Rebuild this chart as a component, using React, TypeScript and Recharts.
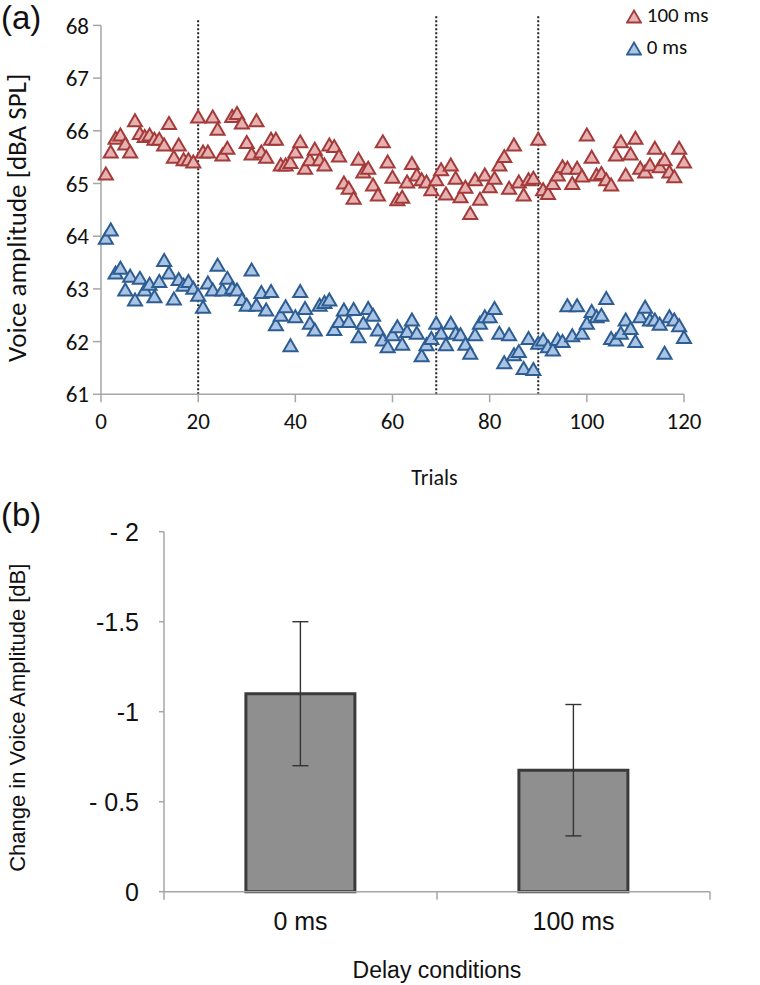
import React from 'react';
import {
  ScatterChart, Scatter, XAxis, YAxis, ReferenceLine,
  BarChart, Bar, ErrorBar,
} from 'recharts';

// ---------- Panel (a) data ----------
const delay100Values = [
  65.18, 65.6, 65.86, 65.92, 65.75, 65.6, 66.19, 65.95, 65.89, 65.92,
  65.84, 65.84, 65.73, 66.14, 65.5, 65.73, 65.45, 65.45, 65.41, 66.26,
  65.6, 65.6, 66.26, 66.03, 65.54, 65.67, 66.27, 66.33, 66.15, 65.78,
  65.56, 66.19, 65.6, 65.5, 65.84, 65.84, 65.35, 65.35, 65.4, 65.6,
  65.79, 65.29, 65.45, 65.65, 65.45, 65.35, 65.73, 65.7, 65.52, 65.01,
  64.91, 64.72, 65.46, 65.22, 65.29, 64.97, 64.78, 65.79, 65.41, 65.12,
  64.69, 64.74, 65.03, 65.38, 65.16, 65.07, 65.03, 64.88, 65.07, 65.26,
  64.8, 65.35, 65.1, 64.75, 64.93, 64.43, 65.07, 64.7, 65.16, 64.94,
  65.1, 65.35, 65.51, 64.91, 65.73, 65.03, 64.78, 65.07, 65.1, 65.84,
  64.88, 64.81, 65.0, 65.16, 65.32, 65.29, 65.0, 65.29, 65.14, 65.92,
  65.5, 65.16, 65.19, 65.07, 64.97, 65.54, 65.79, 65.16, 65.56, 65.86,
  65.29, 65.22, 65.35, 65.67, 65.32, 65.45, 65.22, 65.13, 65.67, 65.41,
];

const delay0Values = [
  63.96, 64.12, 63.3, 63.39, 62.98, 63.24, 62.79, 63.2, 62.98, 63.09,
  62.85, 63.14, 63.54, 63.3, 62.81, 63.18, 63.07, 63.14, 63.01, 62.88,
  62.65, 63.11, 62.98, 63.45, 62.98, 63.2, 63.01, 62.98, 62.8, 62.69,
  63.36, 62.69, 62.93, 62.6, 62.95, 62.32, 62.5, 62.66, 61.92, 62.47,
  62.95, 62.63, 62.35, 62.22, 62.69, 62.74, 62.79, 62.23, 62.38, 62.6,
  62.38, 62.61, 62.09, 62.35, 62.63, 62.5, 62.22, 62.03, 61.9, 62.13,
  62.28, 61.95, 62.19, 62.41, 62.16, 61.73, 61.94, 62.06, 62.35, 62.16,
  61.94, 62.35, 62.16, 62.13, 61.95, 61.78, 62.13, 62.35, 62.47, 62.47,
  62.63, 62.16, 61.6, 62.13, 61.75, 61.81, 61.49, 62.06, 61.47, 61.97,
  62.03, 61.9, 61.84, 62.04, 62.0, 62.68, 62.11, 62.68, 62.16, 62.35,
  62.57, 62.47, 62.5, 62.82, 62.06, 62.03, 62.16, 62.41, 62.25, 62.0,
  62.47, 62.65, 62.41, 62.41, 62.33, 61.78, 62.47, 62.41, 62.3, 62.08,
];

const trialTicks = [0, 20, 40, 60, 80, 100, 120];
const amplitudeTicks = [61, 62, 63, 64, 65, 66, 67, 68];
const phaseBoundaries = [20, 69, 90];
const boundaryTops = [68.1, 68.2, 68.2];
const seriesNames = ['100 ms', '0 ms'];

// ---------- Panel (b) data ----------
const conditions = ['0 ms', '100 ms'];
const changeValues = [-1.1, -0.675];
const changeErrors = [0.4, 0.365];
const changeTicks = [-2, -1.5, -1, -0.5, 0];
const changeTickLabels = ['- 2', '-1.5', '-1', '- 0.5', '0'];

// ---------- Tables ----------
const red = delay100Values.map((v, i) => ({ t: i + 1, v }));
const blue = delay0Values.map((v, i) => ({ t: i + 1, v }));
const barData = conditions.map((c, i) => ({ cond: c, change: changeValues[i], err: changeErrors[i] }));

// ---------- Styles ----------
const CAL = 'Carlito, Calibri, Lato, sans-serif';
const ARIAL = '"Liberation Sans", Arial, sans-serif';
const AXIS_GRAY = '#a6a6a6';
const RED_FILL = '#e6b1b0';
const RED_STROKE = '#a23b3a';
const BLUE_FILL = '#a9c4e4';
const BLUE_STROKE = '#2e5d92';

const makeTriangle = (fill: string, stroke: string) => (props: any) => {
  const { cx, cy } = props;
  if (cx == null || cy == null) return <g />;
  const pts = `${cx},${cy - 6.5} ${cx + 7},${cy + 5.5} ${cx - 7},${cy + 5.5}`;
  return <polygon points={pts} fill={fill} stroke={stroke} strokeWidth={2} strokeLinejoin="miter" />;
};

const LegendTri = ({ fill, stroke }: { fill: string; stroke: string }) => (
  <svg width={16} height={15} style={{ display: 'inline-block', verticalAlign: 'middle' }}>
    <polygon points="8,1.5 15,13.5 1,13.5" fill={fill} stroke={stroke} strokeWidth={1.8} />
  </svg>
);

const BarXTick = (props: any) => {
  const { x, y, payload, index, visibleTicksCount } = props;
  const half = payload && payload.offset ? payload.offset : 136.5;
  const last = index === (visibleTicksCount ?? 2) - 1;
  return (
    <g>
      <line x1={x - half} x2={x - half} y1={y} y2={y + 8} stroke={AXIS_GRAY} strokeWidth={1.5} />
      {last && <line x1={x + half} x2={x + half} y1={y} y2={y + 8} stroke={AXIS_GRAY} strokeWidth={1.5} />}
      <text x={x} y={y + 38} textAnchor="middle" fontFamily={ARIAL} fontSize={25} fill="#111">
        {payload.value}
      </text>
    </g>
  );
};

export default function App() {
  return (
    <div style={{ position: 'absolute', left: 0, top: 0, width: 760, height: 985, background: '#fff' }}>
      <div style={{ position: 'absolute', left: 1, top: 0, fontFamily: ARIAL, fontSize: 33, lineHeight: '36px', color: '#111' }}>(a)</div>
      <div style={{ position: 'absolute', left: 1, top: 497, fontFamily: ARIAL, fontSize: 33, lineHeight: '36px', color: '#111' }}>(b)</div>

      <div style={{ position: 'absolute', left: 0, top: 0 }}>
        <ScatterChart width={760} height={490} margin={{ top: 25.4, right: 76, bottom: 65.7, left: 41 }}>
          <XAxis
            type="number"
            dataKey="t"
            domain={[0, 120]}
            ticks={trialTicks}
            height={30}
            tickSize={8}
            tickMargin={10}
            axisLine={{ stroke: AXIS_GRAY, strokeWidth: 1.5 }}
            tickLine={{ stroke: AXIS_GRAY, strokeWidth: 1.5 }}
            tick={{ fill: '#111', fontSize: 23, fontFamily: CAL }}
            label={(p: any) => {
              const vb = p.viewBox;
              return (
                <text x={vb.x + vb.width / 2 + 42} y={vb.y + 91} textAnchor="middle" fontFamily={CAL} fontSize={22} fill="#111">
                  Trials
                </text>
              );
            }}
          />
          <YAxis
            type="number"
            dataKey="v"
            domain={[61, 68]}
            ticks={amplitudeTicks}
            width={60}
            tickSize={8}
            tickMargin={4}
            axisLine={{ stroke: AXIS_GRAY, strokeWidth: 1.5 }}
            tickLine={{ stroke: AXIS_GRAY, strokeWidth: 1.5 }}
            tick={{ fill: '#111', fontSize: 23, fontFamily: CAL }}
            label={(p: any) => {
              const vb = p.viewBox;
              const cx = vb.x - 24;
              const cy = vb.y + vb.height / 2 + 8;
              return (
                <text x={cx} y={cy} transform={`rotate(-90 ${cx} ${cy})`} textAnchor="middle" dominantBaseline="central" fontFamily={CAL} fontSize={27} fill="#111">
                  Voice amplitude [dBA SPL]
                </text>
              );
            }}
          />
          {phaseBoundaries.map((t, i) => (
            <ReferenceLine
              key={t}
              segment={[{ x: t, y: 61 }, { x: t, y: boundaryTops[i] }]}
              stroke="#222"
              strokeWidth={2}
              strokeDasharray="2 2"
              ifOverflow="visible"
            />
          ))}
          <Scatter name={seriesNames[0]} data={red} shape={makeTriangle(RED_FILL, RED_STROKE)} isAnimationActive={false} />
          <Scatter name={seriesNames[1]} data={blue} shape={makeTriangle(BLUE_FILL, BLUE_STROKE)} isAnimationActive={false} />
        </ScatterChart>
      </div>

      <div style={{ position: 'absolute', left: 626, top: -1, fontFamily: CAL, fontSize: 21, color: '#111', lineHeight: '32px' }}>
        <div><LegendTri fill={RED_FILL} stroke={RED_STROKE} /> <span>{seriesNames[0]}</span></div>
        <div><LegendTri fill={BLUE_FILL} stroke={BLUE_STROKE} /> <span>{seriesNames[1]}</span></div>
      </div>

      <div style={{ position: 'absolute', left: 0, top: 490 }}>
        <BarChart width={760} height={495} data={barData} margin={{ top: 41.7, right: 50, bottom: 63.3, left: 104 }} barCategoryGap="30%">
          <XAxis
            dataKey="cond"
            height={30}
            tickSize={0}
            tickMargin={0}
            interval={0}
            tickLine={false}
            axisLine={{ stroke: AXIS_GRAY, strokeWidth: 1.5 }}
            tick={<BarXTick />}
            label={(p: any) => {
              const vb = p.viewBox;
              return (
                <text x={vb.x + vb.width / 2} y={vb.y + 86} textAnchor="middle" fontFamily={ARIAL} fontSize={23} fill="#111">
                  Delay conditions
                </text>
              );
            }}
          />
          <YAxis
            type="number"
            reversed
            domain={[-2, 0]}
            ticks={changeTicks}
            tickFormatter={(v: number) => changeTickLabels[changeTicks.indexOf(v)] ?? String(v)}
            width={60}
            tickSize={5}
            tickMargin={20}
            axisLine={{ stroke: AXIS_GRAY, strokeWidth: 1.5 }}
            tickLine={{ stroke: AXIS_GRAY, strokeWidth: 1.5 }}
            tick={{ fill: '#111', fontSize: 25, fontFamily: ARIAL }}
            label={(p: any) => {
              const vb = p.viewBox;
              const cx = vb.x - 86;
              const cy = vb.y + vb.height / 2 + 6;
              return (
                <text x={cx} y={cy} transform={`rotate(-90 ${cx} ${cy})`} textAnchor="middle" dominantBaseline="central" fontFamily={ARIAL} fontSize={22} fill="#111">
                  Change in Voice Amplitude [dB]
                </text>
              );
            }}
          />
          <Bar dataKey="change" fill="#8f8f8f" stroke="#3a3a3a" strokeWidth={3} isAnimationActive={false}>
            <ErrorBar dataKey="err" width={8} stroke="#333" strokeWidth={1.4} />
          </Bar>
        </BarChart>
      </div>
    </div>
  );
}
